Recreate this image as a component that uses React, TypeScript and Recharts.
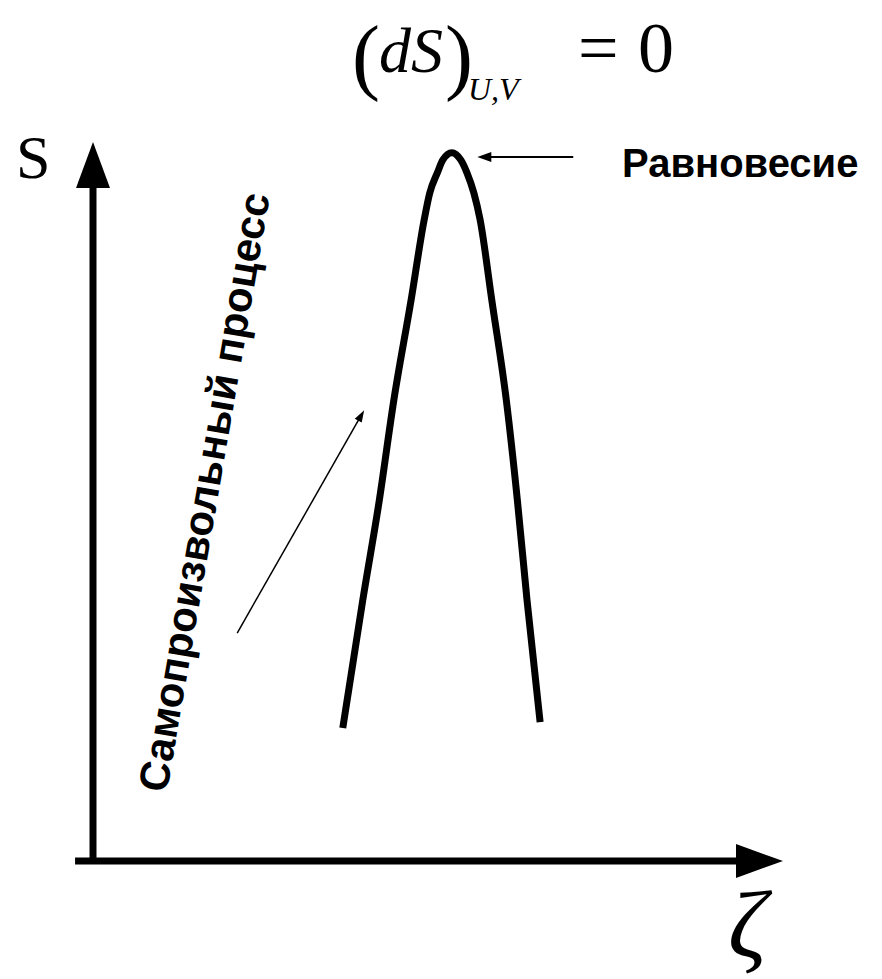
import React from "react";
import { LineChart, Line, XAxis, YAxis, ReferenceLine } from "recharts";

// curve S(ζ) (ζ and S both on a 0..100 scale)
const zeta = [
  36.2, 39.1, 41.5, 43.6, 46.1, 48.0, 48.8, 49.9, 50.7, 52.0,
  53.3, 54.2, 55.2, 56.1, 57.8, 59.9, 61.5, 62.9, 64.8,
];
const entropy = [
  18.5, 36.3, 50.2, 64.1, 78.0, 89.2, 92.9, 95.7, 97.5, 98.5,
  97.5, 95.7, 92.9, 89.2, 78.0, 64.1, 50.2, 36.3, 19.3,
];

// annotation arrows [from, to] in the same units
const eqArrow = [
  { x: 69.6, y: 97.9 },
  { x: 55.7, y: 97.9 },
];
const processArrow = [
  { x: 20.9, y: 31.7 },
  { x: 39.3, y: 62.7 },
];
const xAxisArrow = [
  { x: -2.6, y: 0 },
  { x: 100, y: 0 },
];
const yAxisArrow = [
  { x: 0, y: 0 },
  { x: 0, y: 100 },
];

const eqLabel = "Равновесие";
const processLabel = "Самопроизвольный процесс";

const data = zeta.map((z, i) => ({ zeta: z, s: entropy[i] }));

const SANS = "'Liberation Sans', Arial, sans-serif";
const SERIF = "'Liberation Serif', 'Times New Roman', serif";

function arrow(width: number, headLen: number, headHalf: number) {
  return (props: any) => {
    const { x1, y1, x2, y2 } = props;
    const len = Math.hypot(x2 - x1, y2 - y1);
    const ux = (x2 - x1) / len;
    const uy = (y2 - y1) / len;
    const bx = x2 - ux * headLen;
    const by = y2 - uy * headLen;
    const pts = [
      `${x2},${y2}`,
      `${bx - uy * headHalf},${by + ux * headHalf}`,
      `${bx + uy * headHalf},${by - ux * headHalf}`,
    ].join(" ");
    return (
      <g>
        <line x1={x1} y1={y1} x2={bx + ux} y2={by + uy} stroke="#000" strokeWidth={width} />
        <polygon points={pts} fill="#000" />
      </g>
    );
  };
}

export default function App() {
  return (
    <div style={{ position: "relative", width: 882, height: 979, background: "#fff" }}>
      <style>{"body{margin:0}"}</style>
      <LineChart
        width={882}
        height={979}
        data={data}
        margin={{ top: 142, right: 99, bottom: 118, left: 93 }}
      >
        <XAxis dataKey="zeta" type="number" domain={[0, 100]} hide />
        <YAxis type="number" domain={[0, 100]} hide />
        <ReferenceLine segment={xAxisArrow} ifOverflow="visible" shape={arrow(7, 47, 17)} />
        <ReferenceLine segment={yAxisArrow} ifOverflow="visible" shape={arrow(7, 46, 17)} />
        <ReferenceLine segment={eqArrow} ifOverflow="visible" shape={arrow(2, 14, 5)} />
        <ReferenceLine segment={processArrow} ifOverflow="visible" shape={arrow(1.5, 12, 4)} />
        <Line
          dataKey="s"
          type="monotone"
          stroke="#000"
          strokeWidth={7}
          dot={false}
          isAnimationActive={false}
        />
      </LineChart>
      <svg
        width={882}
        height={979}
        style={{ position: "absolute", left: 0, top: 0, pointerEvents: "none" }}
      >
        <g fontFamily={SERIF} fill="#000">
          <text x={352} y={84} fontSize={84}>(</text>
          <text x={379} y={72} fontSize={64} fontStyle="italic">dS</text>
          <text x={445} y={84} fontSize={84}>)</text>
          <text x={468} y={100} fontSize={32} fontStyle="italic">U,V</text>
          <text x={578} y={72} fontSize={72}>=</text>
          <text x={638} y={72} fontSize={72}>0</text>
          <text x={16} y={178} fontSize={62}>S</text>
          <text x={728} y={957} fontSize={96} fontStyle="italic">ζ</text>
        </g>
        <text x={622} y={177} fontSize={40} fontWeight="bold" fontFamily={SANS}>
          {eqLabel}
        </text>
        <text
          x={204}
          y={492}
          fontSize={42}
          fontWeight="bold"
          fontFamily={SANS}
          textAnchor="middle"
          dominantBaseline="central"
          transform="rotate(-80.2, 204, 492)"
        >
          {processLabel}
        </text>
      </svg>
    </div>
  );
}
